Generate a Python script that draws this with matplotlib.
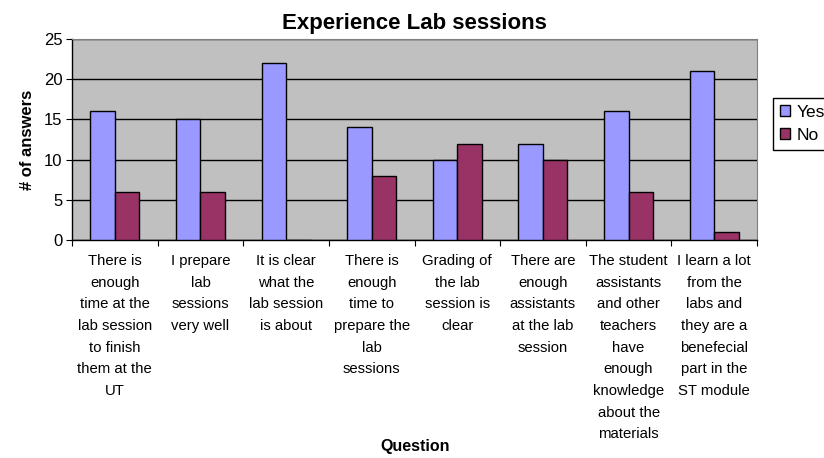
import numpy as np
import matplotlib.pyplot as plt
from matplotlib.patches import Patch

plt.rcParams['font.family'] = ['Liberation Sans', 'DejaVu Sans']

questions = [
    "There is\nenough\ntime at the\nlab session\nto finish\nthem at the\nUT",
    "I prepare\nlab\nsessions\nvery well",
    "It is clear\nwhat the\nlab session\nis about",
    "There is\nenough\ntime to\nprepare the\nlab\nsessions",
    "Grading of\nthe lab\nsession is\nclear",
    "There are\nenough\nassistants\nat the lab\nsession",
    "The student\nassistants\nand other\nteachers\nhave\nenough\nknowledge\nabout the\nmaterials",
    "I learn a lot\nfrom the\nlabs and\nthey are a\nbenefecial\npart in the\nST module",
]
yes = [16, 15, 22, 14, 10, 12, 16, 21]
no = [6, 6, 0, 8, 12, 10, 6, 1]

fig = plt.figure(figsize=(8.24, 4.58), dpi=100)
ax = fig.add_axes([72/824, 1-240/458, 685/824, 201/458])
ax.set_facecolor('#C0C0C0')

x = np.arange(len(questions))
w = 1/3.5
ax.bar(x - w/2, yes, w, color='#9999FF', edgecolor='black', lw=1, zorder=3)
ax.bar(x + w/2, no, w, color='#993366', edgecolor='black', lw=1, zorder=3)

ax.set_xlim(-0.5, len(questions) - 0.5)
ax.set_ylim(0, 25)
ax.set_yticks(range(0, 26, 5))
ax.yaxis.grid(True, color='black', lw=1, zorder=1)
ax.set_axisbelow(True)

# group boundaries get the tick marks, labels sit between them
ax.set_xticks(np.arange(-0.5, len(questions)))
ax.set_xticklabels([])
ax.set_xticks(x, minor=True)
ax.set_xticklabels(questions, minor=True, fontsize=10.7, linespacing=1.7, va='top')
ax.tick_params(axis='x', which='major', direction='out', length=4, color='black')
ax.tick_params(axis='x', which='minor', length=0, pad=10)
ax.tick_params(axis='y', direction='out', length=4, labelsize=12, pad=3)

for s in ['top', 'right']:
    ax.spines[s].set_color('#808080')
for s in ['left', 'bottom']:
    ax.spines[s].set_color('black')
    ax.spines[s].set_linewidth(1)

ax.set_title('Experience Lab sessions', fontsize=16, fontweight='bold', pad=7)
ax.set_ylabel('# of answers', fontsize=12, fontweight='bold', labelpad=6)
fig.text(415/824, 1-447/458, 'Question', fontsize=11.5, fontweight='bold',
         ha='center', va='center')

handles = [Patch(facecolor='#9999FF', edgecolor='black', label='Yes'),
           Patch(facecolor='#993366', edgecolor='black', label='No')]
leg = fig.legend(handles=handles, loc='upper left',
                 bbox_to_anchor=(773/824, 1-98/458), fontsize=12.5,
                 fancybox=False, edgecolor='black', framealpha=1,
                 handlelength=0.6, handleheight=0.6, handletextpad=0.35,
                 borderpad=0.4, labelspacing=0.45, borderaxespad=0)
leg.get_frame().set_linewidth(1)

fig.savefig('out.png', dpi=100)
